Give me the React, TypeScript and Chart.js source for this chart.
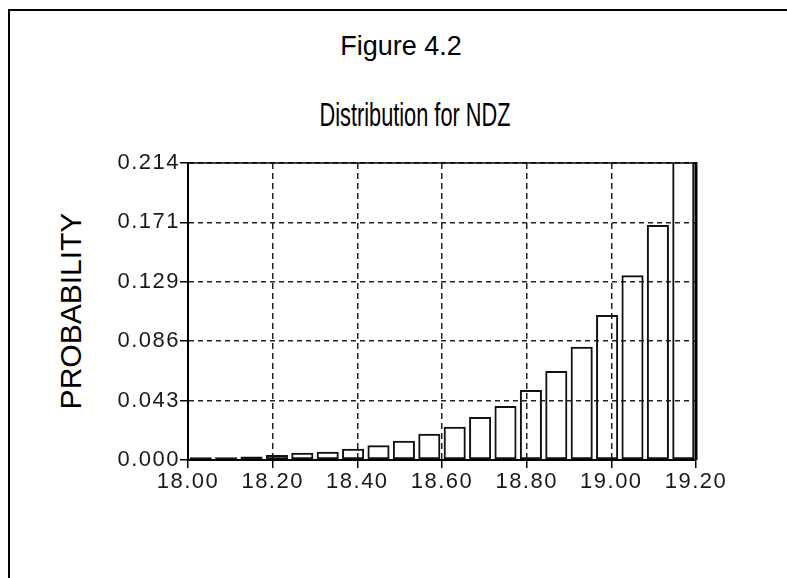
import { useEffect, useRef } from "react"
import { Chart, registerables } from "chart.js"

Chart.register(...registerables)

// histogram bins (width 0.06), centre of each bin
const binCenters = [
  18.03, 18.09, 18.15, 18.21, 18.27, 18.33, 18.39, 18.45, 18.51, 18.57,
  18.63, 18.69, 18.75, 18.81, 18.87, 18.93, 18.99, 19.05, 19.11, 19.17,
]
const probabilities = [
  0.002, 0.002, 0.0026, 0.0036, 0.0053, 0.006, 0.0082, 0.0106, 0.0139, 0.019,
  0.024, 0.031, 0.039, 0.0505, 0.0642, 0.0817, 0.1046, 0.1332, 0.1695, 0.2301,
]
const xTickValues = [18.0, 18.2, 18.4, 18.6, 18.8, 19.0, 19.2]
const xTickLabels = ["18.00", "18.20", "18.40", "18.60", "18.80", "19.00", "19.20"]
const yTickValues = [0, 0.04284, 0.08568, 0.12852, 0.17136, 0.2142]
const yTickLabels = ["0.000", "0.043", "0.086", "0.129", "0.171", "0.214"]

const FONT = "'Liberation Sans', Arial, Helvetica, sans-serif"

const framePlugin = {
  id: "frame",
  beforeUpdate(chart: any) {
    chart.ctx.letterSpacing = "1.5px"
  },
  beforeDraw(chart: any) {
    chart.ctx.letterSpacing = "1.5px"
  },
  afterDraw(chart: any) {
    const { ctx, chartArea: a } = chart
    ctx.save()
    ctx.setLineDash([])
    ctx.strokeStyle = "#000"
    ctx.lineWidth = 1.5
    ctx.beginPath()
    ctx.moveTo(a.left, a.top)
    ctx.lineTo(a.right, a.top)
    ctx.stroke()
    ctx.lineWidth = 3
    ctx.beginPath()
    ctx.moveTo(a.right, a.top - 1)
    ctx.lineTo(a.right, a.bottom)
    ctx.stroke()
    ctx.restore()
  },
}

function DistributionChart() {
  const chartRef = useRef<HTMLCanvasElement>(null)
  const chartInstance = useRef<Chart | null>(null)

  useEffect(() => {
    if (!chartRef.current) return
    if (chartInstance.current) chartInstance.current.destroy()
    const ctx = chartRef.current.getContext("2d")
    if (!ctx) return

    const tickFont = { family: FONT, size: 22 }

    chartInstance.current = new Chart(ctx, {
      type: "bar",
      data: {
        datasets: [
          {
            label: "Probability",
            data: binCenters.map((x, i) => ({ x, y: probabilities[i] })),
            backgroundColor: "rgba(0,0,0,0)",
            borderColor: "#111",
            borderWidth: 2,
            borderSkipped: false,
            barPercentage: 0.87,
            categoryPercentage: 1,
          },
        ],
      },
      options: {
        responsive: false,
        animation: false,
        layout: { padding: { left: 0, top: 163, right: 91, bottom: 0 } },
        plugins: {
          legend: { display: false },
          tooltip: { enabled: false },
        },
        scales: {
          x: {
            type: "linear",
            min: 18,
            max: 19.2,
            offset: false,
            afterBuildTicks: (s: any) => {
              s.ticks = xTickValues.map((v) => ({ value: v }))
            },
            afterFit: (s: any) => {
              s.height = 118
            },
            ticks: {
              autoSkip: false,
              maxRotation: 0,
              padding: 1,
              color: "#1a1a1a",
              font: tickFont,
              callback: (_v: any, i: number) => xTickLabels[i],
            },
            grid: {
              offset: false,
              color: "#222",
              lineWidth: 1.5,
              tickColor: "#000",
              tickLength: 8,
              tickWidth: 1.5,
            },
            border: { color: "#000", width: 2, dash: [6, 4] },
          },
          y: {
            min: 0,
            max: 0.2142,
            afterBuildTicks: (s: any) => {
              s.ticks = yTickValues.map((v) => ({ value: v }))
            },
            afterFit: (s: any) => {
              s.width = 188
            },
            ticks: {
              padding: 0,
              color: "#1a1a1a",
              font: tickFont,
              callback: (_v: any, i: number) => yTickLabels[i],
            },
            grid: {
              color: "#222",
              lineWidth: 1.5,
              tickColor: "#000",
              tickLength: 8,
              tickWidth: 1.5,
            },
            border: { color: "#000", width: 2, dash: [5, 4] },
          },
        },
      },
      plugins: [framePlugin],
    })

    return () => {
      if (chartInstance.current) {
        chartInstance.current.destroy()
        chartInstance.current = null
      }
    }
  }, [])

  return <canvas ref={chartRef} width={787} height={578} style={{ position: "absolute", left: 0, top: 0 }} />
}

export default function App() {
  return (
    <div
      style={{
        position: "fixed",
        left: 0,
        top: 0,
        width: 787,
        height: 578,
        overflow: "hidden",
        background: "#fff",
        fontFamily: FONT,
        color: "#000",
      }}
    >
      <div
        style={{
          position: "absolute",
          left: 8,
          top: 9,
          width: 900,
          height: 700,
          borderTop: "2px solid #000",
          borderLeft: "2px solid #000",
        }}
      />
      <div
        style={{
          position: "absolute",
          left: 0,
          top: 33,
          width: 802,
          textAlign: "center",
          fontSize: 27,
          lineHeight: 1,
        }}
      >
        Figure 4.2
      </div>
      <div
        style={{
          position: "absolute",
          left: 0,
          top: 97,
          width: 830,
          textAlign: "center",
          fontSize: 34,
          lineHeight: 1,
          transform: "scaleX(0.64)",
        }}
      >
        Distribution for NDZ
      </div>
      <div
        style={{
          position: "absolute",
          left: 71 - 150,
          top: 311 - 18,
          width: 300,
          height: 36,
          lineHeight: "36px",
          textAlign: "center",
          fontSize: 30,
          transform: "rotate(-90deg)",
        }}
      >
        PROBABILITY
      </div>
      <DistributionChart />
    </div>
  )
}
